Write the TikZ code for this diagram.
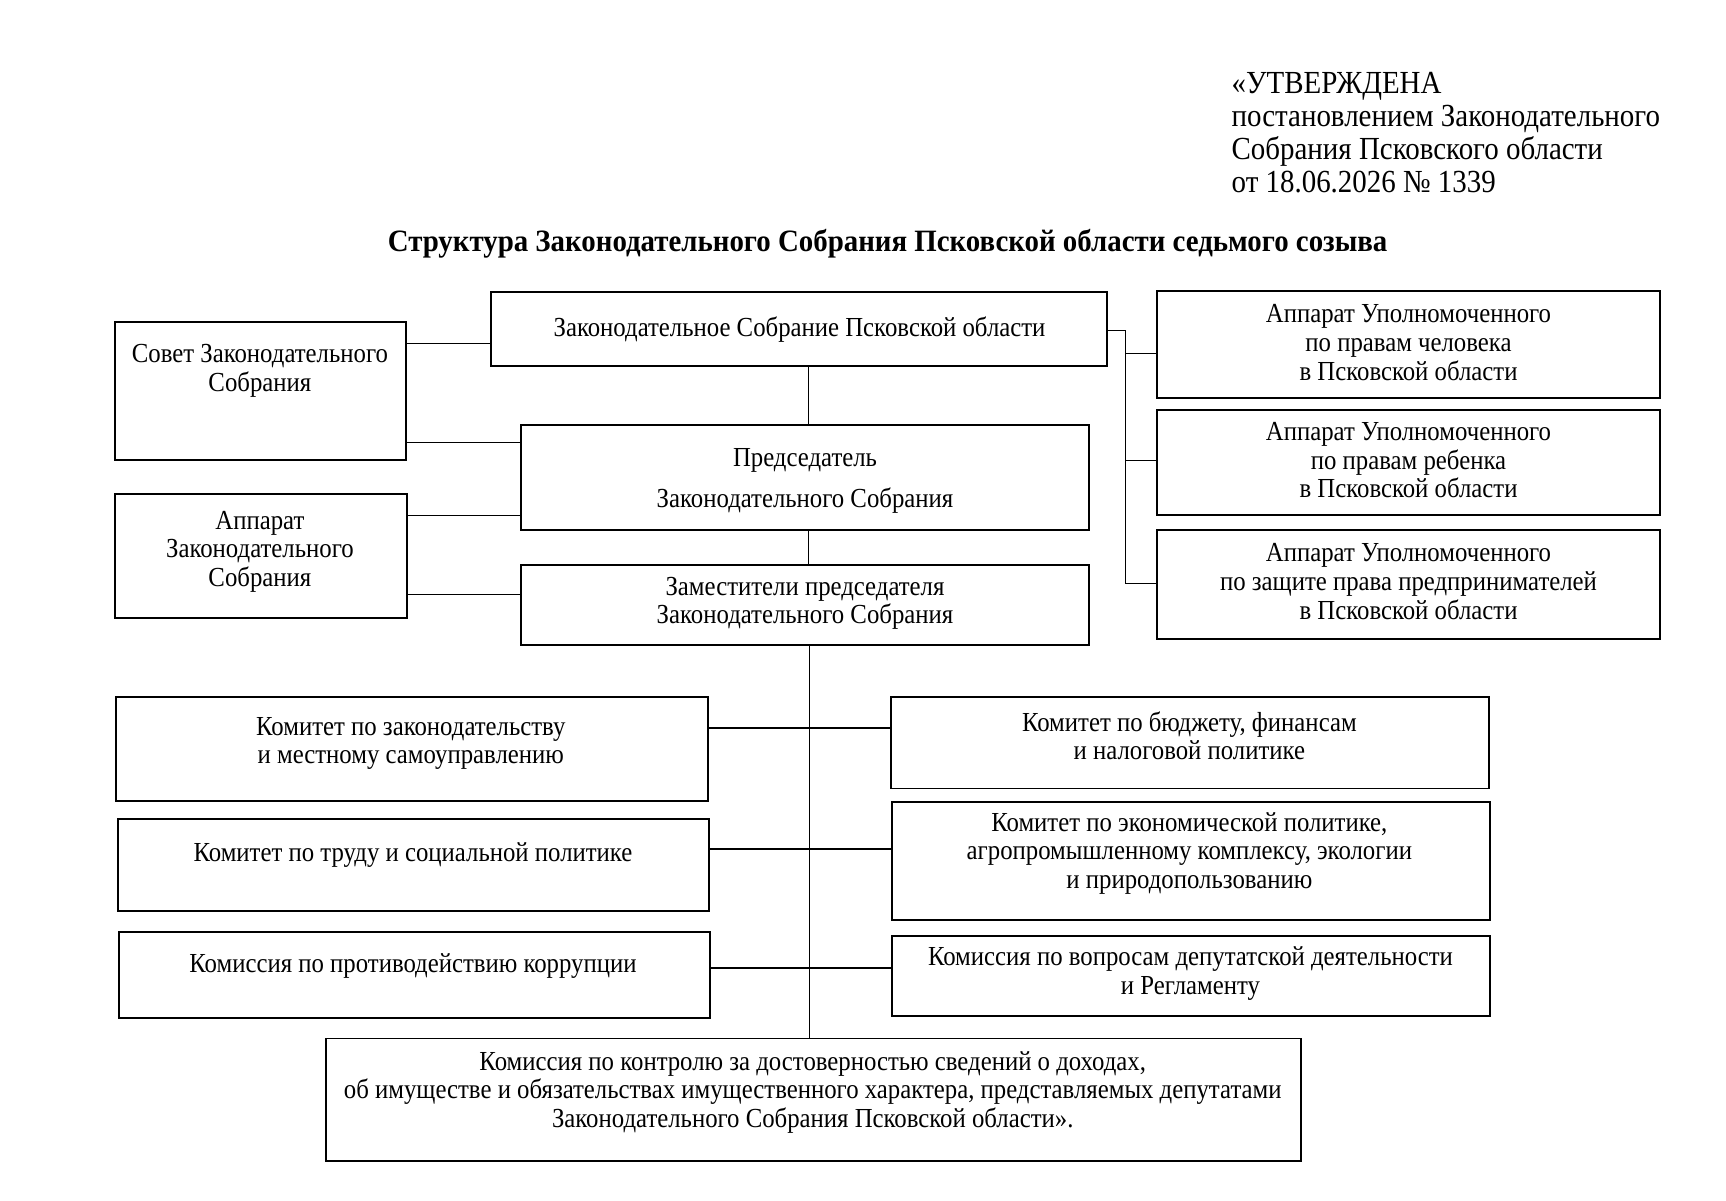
\documentclass[tikz,border=0pt]{standalone}
\usepackage{fontspec}
\setmainfont{Liberation Serif}[FakeStretch=0.9]
\newfontfamily\titlefont{Liberation Serif}[FakeStretch=0.93]
\usetikzlibrary{fit}
\begin{document}
\begin{tikzpicture}[x=0.5pt,y=-0.5pt,
  box/.style={draw, line width=0.9pt, inner sep=0pt},
  txt/.style={align=center, inner sep=0pt, font=\fontsize{12.5}{13}\selectfont},
  link/.style={line width=0.7pt},
  thick link/.style={line width=1.2pt}]
\useasboundingbox (0,0) rectangle (1567.3,1089.7);
% header
\node[anchor=north west, align=left, inner sep=0pt, font=\fontsize{14.6}{15}\selectfont] (hdr) at (1118,65)
  {«УТВЕРЖДЕНА\\постановлением Законодательного\\Собрания Псковского области\\от 18.06.2026 № 1339};
\node[inner sep=0pt, font=\titlefont\fontsize{14.1}{16}\selectfont\bfseries] (title) at (806,221)
  {Структура Законодательного Собрания Псковской области седьмого созыва};
% boxes
\node[box, fit={(446,265) (1005,332)}] (zs) {};
\node[box, fit={(104,292) (369,418)}] (sovet) {};
\node[box, fit={(473,386) (989,481)}] (pred) {};
\node[box, fit={(104,449) (370,561)}] (app) {};
\node[box, fit={(473,513) (989,586)}] (zam) {};
\node[box, fit={(1051,264) (1507,361)}] (om1) {};
\node[box, fit={(1051,372) (1507,468)}] (om2) {};
\node[box, fit={(1051,481) (1507,580)}] (om3) {};
\node[box, fit={(105,633) (643,727)}] (k1) {};
\node[box, fit={(107,744) (644,827)}] (k2) {};
\node[box, fit={(108,846) (645,924)}] (k3) {};
\node[box, fit={(809,633) (1352,716)}] (r1) {};
\node[box, fit={(810,728) (1353,835)}] (r2) {};
\node[box, fit={(810,850) (1353,923)}] (r3) {};
\node[box, fit={(296,943) (1181,1054)}] (bot) {};
% texts
\node[txt] (tzs) at (726,299) {Законодательное Собрание Псковской области};
\node[txt] (tsovet) at (236,337) {Совет Законодательного\\Собрания};
\node[txt] (tpred) at (731,437) {Председатель\\[5.5pt]Законодательного Собрания};
\node[txt] (tapp) at (236,501) {Аппарат\\Законодательного\\Собрания};
\node[txt] (tzam) at (731,548) {Заместители председателя\\Законодательного Собрания};
\node[txt] (tom1) at (1279,311) {Аппарат Уполномоченного\\по правам человека\\в Псковской области};
\node[txt] (tom2) at (1279,418) {Аппарат Уполномоченного\\по правам ребенка\\в Псковской области};
\node[txt] (tom3) at (1279,528) {Аппарат Уполномоченного\\по защите права предпринимателей\\в Псковской области};
\node[txt] (tk1) at (373,675) {Комитет по законодательству\\и местному самоуправлению};
\node[txt] (tk2) at (375,776) {Комитет по труду и социальной политике};
\node[txt] (tk3) at (375,877) {Комиссия по противодействию коррупции};
\node[txt] (tr1) at (1080,668) {Комитет по бюджету, финансам\\и налоговой политике};
\node[txt] (tr2) at (1080,775) {Комитет по экономической политике,\\агропромышленному комплексу, экологии\\и природопользованию};
\node[txt] (tr3) at (1081,884) {Комиссия по вопросам депутатской деятельности\\и Регламенту};
\node[txt] (tbot) at (738,992) {Комиссия по контролю за достоверностью сведений о доходах,\\об имуществе и обязательствах имущественного характера, представляемых депутатами\\Законодательного Собрания Псковской области».};
% connectors left
\draw[link] (sovet.east |- 0,312) -- (zs.west |- 0,312);
\draw[link] (sovet.east |- 0,402) -- (pred.west |- 0,402);
\draw[link] (app.east |- 0,468) -- (pred.west |- 0,468);
\draw[link] (app.east |- 0,540) -- (zam.west |- 0,540);
% spine
\draw[link] (zs.south -| 734,0) -- (pred.north -| 734,0);
\draw[link] (pred.south -| 734,0) -- (zam.north -| 734,0);
\draw[link] (zam.south -| 735,0) -- (bot.north -| 735,0);
% committees
\draw[link] (k1.east |- 0,661) -- (r1.west |- 0,661);
\draw[thick link] (k2.east |- 0,771) -- (r2.west |- 0,771);
\draw[link] (k3.east |- 0,879) -- (r3.west |- 0,879);
% right tree
\coordinate (rt) at (1022,300);
\draw[link] (zs.east |- rt) -- (rt) -- (1022,530) -- (om3.west |- 0,530);
\draw[link] (1022,321) -- (om1.west |- 0,321);
\draw[link] (1022,418) -- (om2.west |- 0,418);
\end{tikzpicture}
\end{document}
